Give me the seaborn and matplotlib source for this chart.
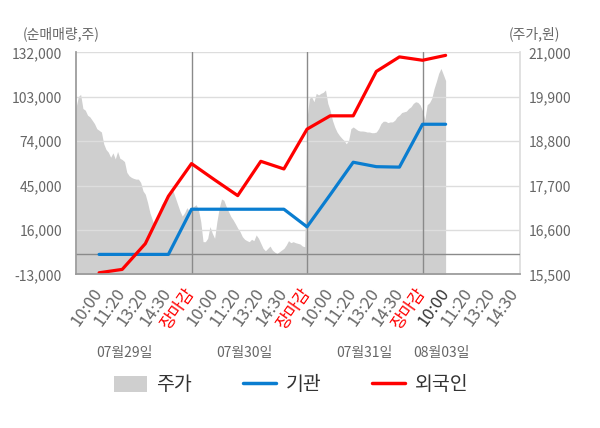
import numpy as np
import pandas as pd
import seaborn as sns
import matplotlib.pyplot as plt
from matplotlib.patches import Patch
from matplotlib.lines import Line2D
from matplotlib.ticker import FuncFormatter

# x축: 시점 라벨 (하루 5칸, 장마감이 날짜 경계)
tick_labels = ['10:00', '11:20', '13:20', '14:30', '장마감'] * 3 + ['10:00', '11:20', '13:20', '14:30']
day_labels = ['07월29일', '07월30일', '07월31일', '08월03일']

# 누적 순매매량 (주), 시점 1..16
inst = [0, 0, 0, 0, 29500, 29500, 29500, 29500, 29500, 18000,
        38900, 60200, 57300, 57000, 85000, 85000]
foreign = [-12000, -9800, 7000, 38000, 59300, 48700, 38400, 60800, 55800, 81800,
           90500, 90500, 119500, 129000, 126800, 130000]

# 주가 (원), 한 칸당 10개 샘플
price_d1 = [19625, 19900, 19958, 19608, 19567, 19442, 19400, 19317, 19233, 19108,
            19067, 19025, 18733, 18592, 18525, 18400, 18508, 18358, 18542, 18375,
            18342, 18292, 18025, 17942, 17900, 17875, 17858, 17858, 17775, 17567,
            17483, 17275, 17025, 16858, 16692, 16817, 17067, 17233, 17317, 17400,
            17483, 17525, 17567, 17400, 17233, 17067, 16942, 17025, 17150, 17067]
price_d2 = [17142, 17183, 17225, 17100, 16808, 16308, 16308, 16392, 16683, 16517,
            16392, 16808, 17142, 17367, 17333, 17183, 17058, 16933, 16850, 16750,
            16642, 16558, 16433, 16367, 16333, 16308, 16367, 16333, 16475, 16392,
            16267, 16142, 16083, 16142, 16200, 16100, 16050, 16017, 16058, 16100,
            16142, 16225, 16333, 16283, 16308, 16283, 16267, 16250, 16200, 16183]
price_d3 = [19358, 19858, 19900, 19775, 19983, 19942, 19983, 20008, 20067, 19733,
            19567, 19317, 19150, 19025, 18942, 18875, 18817, 18733, 18817, 19108,
            19150, 19108, 19067, 19050, 19050, 19042, 19025, 19025, 19008, 19008,
            19025, 19108, 19233, 19292, 19292, 19258, 19275, 19275, 19317, 19400,
            19442, 19508, 19525, 19542, 19608, 19650, 19733, 19775, 19758, 19692]
price_d4 = [19550, 19330, 19700, 19750, 19860, 20100, 20280, 20480, 20600, 20450, 20300]

price = price_d1 + price_d2 + price_d3 + price_d4
price_x = np.arange(len(price)) * 0.1
flow_x = np.arange(1, len(inst) + 1)
tick_x = np.arange(1, len(tick_labels) + 1)

left_ticks = np.arange(-13000, 132001, 29000)
right_ticks = np.arange(15500, 21001, 1100)

sns.set_theme(style='white')
plt.rcParams['font.family'] = ['Noto Sans CJK KR', 'DejaVu Sans']

BLUE = '#0a7dd0'
RED = '#ff0000'
AREA = '#cfcfcf'
GRAY_TXT = '#666666'

fig = plt.figure(figsize=(6, 4.28), dpi=100)
ax = fig.add_axes([76 / 600, 1 - 274.3 / 428, 444 / 600, 222 / 428])
axr = ax.twinx()
ax.set_zorder(axr.get_zorder() + 1)
ax.patch.set_visible(False)
axr.set_facecolor('#f4f4f4')

# 주가 영역
axr.fill_between(price_x, price, 15500, color=AREA, lw=0)
axr.set_ylim(15500, 21000)
axr.set_yticks(right_ticks)

# 순매매량 선
ax.set_ylim(-13000, 132000)
ax.set_yticks(left_ticks)
ax.grid(axis='y', color='#dddddd', lw=1)
ax.set_axisbelow(True)
ax.axhline(0, color='#8a8a8a', lw=1, zorder=1.5)
for v in (5, 10, 15):
    ax.axvline(v, color='#8a8a8a', lw=1, zorder=1.5)

df = pd.DataFrame({'x': flow_x, '기관': inst, '외국인': foreign})
sns.lineplot(data=df, x='x', y='기관', ax=ax, color=BLUE, lw=2.3)
sns.lineplot(data=df, x='x', y='외국인', ax=ax, color=RED, lw=2.3)
ax.set_xlabel('')
ax.set_ylabel('')
axr.set_ylabel('')

xmax = 19.22
ax.set_xlim(0, xmax)
ax.set_xticks(tick_x)
ax.set_xticklabels(tick_labels, rotation=55, ha='right', va='center',
                   rotation_mode='anchor', fontsize=12)
ax.set_xticks([0, 5, 10, 15, xmax], minor=True)
ax.tick_params(axis='x', which='major', length=0, pad=11)
ax.tick_params(axis='x', which='minor', length=5, color='#999999', width=1)
for lbl, t in zip(ax.get_xticklabels(), tick_labels):
    lbl.set_color(RED if t == '장마감' else GRAY_TXT)
ax.get_xticklabels()[15].set_color('#333333')

fmt = FuncFormatter(lambda v, p: f'{v:,.0f}')
ax.yaxis.set_major_formatter(fmt)
axr.yaxis.set_major_formatter(fmt)
ax.tick_params(axis='y', length=0, pad=10, labelsize=10, labelcolor=GRAY_TXT)
axr.tick_params(axis='y', length=0, pad=6, labelsize=10, labelcolor=GRAY_TXT)

for s in ('top', 'right'):
    ax.spines[s].set_visible(False)
for s in ('top', 'left', 'bottom'):
    axr.spines[s].set_visible(False)
ax.spines['left'].set_color('#999999')
ax.spines['bottom'].set_color('#999999')
axr.spines['right'].set_color('#dddddd')

# 날짜 라벨
for x, d in zip([2.1, 7.3, 12.5, 15.8], day_labels):
    ax.text(x, -0.354, d, transform=ax.get_xaxis_transform(), ha='center', va='center',
            fontsize=10, color=GRAY_TXT)

fig.text(23 / 600, 1 - 34 / 428, '(순매매량,주)', fontsize=10, color=GRAY_TXT, va='center')
fig.text(509 / 600, 1 - 34 / 428, '(주가,원)', fontsize=10, color=GRAY_TXT, va='center')

handles = [Patch(facecolor=AREA, edgecolor='none'),
           Line2D([], [], color=BLUE, lw=2.5),
           Line2D([], [], color=RED, lw=2.5)]
fig.legend(handles, ['주가', '기관', '외국인'], loc='center', bbox_to_anchor=(0.485, 1 - 385 / 428),
           ncol=3, frameon=False, fontsize=14, handlelength=1.7, handleheight=0.85,
           columnspacing=2.6, handletextpad=0.5, labelcolor='#333333')

fig.savefig('out.png', dpi=100)
